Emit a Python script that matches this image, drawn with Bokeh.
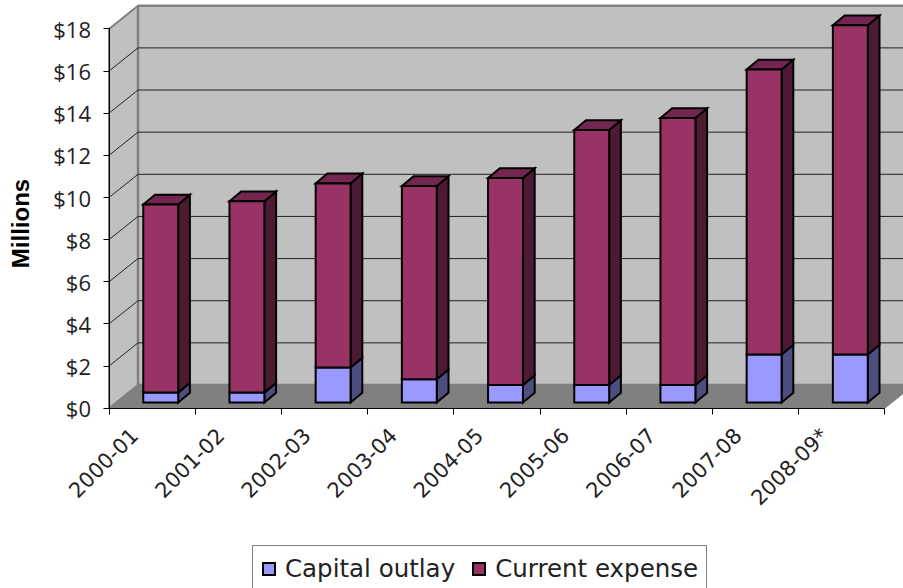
from bokeh.plotting import figure
from bokeh.models import Range1d, LinearAxis, FixedTicker, Legend, LegendItem, Label, NumeralTickFormatter
from bokeh.embed import file_html
from bokeh.resources import INLINE

categories = ["2000-01", "2001-02", "2002-03", "2003-04", "2004-05", "2005-06", "2006-07", "2007-08", "2008-09*"]
capital_outlay = [0.47, 0.47, 1.66, 1.10, 0.83, 0.83, 0.83, 2.28, 2.28]
current_expense = [8.93, 9.08, 8.74, 9.17, 9.82, 12.10, 12.67, 13.52, 15.62]
y_ticks = [0, 2, 4, 6, 8, 10, 12, 14, 16, 18]

CAP, CAP_SIDE = "#9999FF", "#4D4D80"
CUR, CUR_SIDE, CUR_TOP = "#993366", "#4D1A33", "#732650"
WALL, FLOOR, EDGE = "#C0C0C0", "#808080", "#808080"
TEXT = "#222222"

n = len(categories)
px_x, px_y = 86.2, 21.07
LEFT, BOTTOM = 108.5, 180.3               # canvas pixels left of / below the chart origin
DX, DY = 29 / px_x, 23.2 / px_y          # depth of the chart box
BW = 0.405                                # bar width
OY = 0.27                                 # bar offset from the front of the floor
BDX, BDY = 0.136, 0.465                   # depth of a bar
YMAX = y_ticks[-1]

p = figure(width=903, height=588, frame_width=903, frame_height=588,
           x_range=Range1d(-LEFT / px_x, (903 - LEFT) / px_x),
           y_range=Range1d(-BOTTOM / px_y, (588 - BOTTOM) / px_y),
           min_border=0, x_axis_location=None, y_axis_location=None,
           output_backend="svg", toolbar_location=None)
p.outline_line_color = None
p.xgrid.visible = False
p.ygrid.visible = False
p.background_fill_color = "white"
p.border_fill_color = "white"

# walls and floor
p.patch([0, DX, DX, 0], [0, DY, DY + YMAX, YMAX], fill_color=WALL, line_color=EDGE, line_width=2)
p.quad(left=[DX], right=[DX + n], bottom=[DY], top=[DY + YMAX], fill_color=WALL, line_color=EDGE, line_width=2.5)
p.patch([0, n, n + DX, DX], [0, 0, DY, DY], fill_color=FLOOR, line_color=FLOOR)

# gridlines
for t in y_ticks[1:-1]:
    p.line([0, DX, DX + n], [t, t + DY, t + DY], line_color="#222222", line_width=1)

# bars
cap_r, cur_r = None, None
for i in range(n):
    x0 = i + 0.6 - BW / 2
    x1 = x0 + BW
    y0 = OY
    y1 = y0 + capital_outlay[i]
    y2 = y1 + current_expense[i]
    common = dict(line_color="black", line_width=2, line_join="miter")
    p.patch([x1, x1 + BDX, x1 + BDX, x1], [y0, y0 + BDY, y1 + BDY, y1], fill_color=CAP_SIDE, **common)
    p.patch([x1, x1 + BDX, x1 + BDX, x1], [y1, y1 + BDY, y2 + BDY, y2], fill_color=CUR_SIDE, **common)
    p.patch([x0, x1, x1 + BDX, x0 + BDX], [y2, y2, y2 + BDY, y2 + BDY], fill_color=CUR_TOP, **common)
    r1 = p.quad(left=[x0], right=[x1], bottom=[y0], top=[y1], fill_color=CAP, **common)
    r2 = p.quad(left=[x0], right=[x1], bottom=[y1], top=[y2], fill_color=CUR, **common)
    if i == 0:
        cap_r, cur_r = r1, r2

# axes
yaxis = LinearAxis(ticker=FixedTicker(ticks=y_ticks), bounds=(0, YMAX), fixed_location=0,
                   formatter=NumeralTickFormatter(format="$0"))
yaxis.major_label_text_font = "Open Sans"
yaxis.major_label_text_font_size = "22px"
yaxis.major_label_text_color = TEXT
yaxis.major_label_standoff = 12
yaxis.major_tick_out = 6
yaxis.major_tick_in = 0
yaxis.minor_tick_out = 0
yaxis.minor_tick_in = 0
yaxis.axis_line_color = "black"
yaxis.major_tick_line_color = "black"
p.add_layout(yaxis, "left")

label_pos = [i + 0.3 for i in range(n)]
xaxis = LinearAxis(ticker=FixedTicker(ticks=label_pos, minor_ticks=list(range(n + 1))), bounds=(0, n),
                   fixed_location=0,
                   major_label_overrides={m: c for m, c in zip(label_pos, categories)})
xaxis.major_tick_out = 0
xaxis.major_tick_in = 0
xaxis.minor_tick_out = 6
xaxis.minor_tick_in = 0
xaxis.minor_tick_line_color = "black"
xaxis.axis_line_color = "black"
xaxis.major_label_orientation = 0.785398
xaxis.major_label_text_font = "DejaVu Sans"
xaxis.major_label_text_font_size = "21px"
xaxis.major_label_text_color = TEXT
xaxis.major_label_standoff = 18
p.add_layout(xaxis, "below")

p.add_layout(Label(x=20, y=365, x_units="screen", y_units="screen", text="Millions",
                   angle=1.5708, text_font="Liberation Sans", text_font_style="bold",
                   text_font_size="24px", text_color="black", text_align="center", text_baseline="middle"))

legend = Legend(items=[LegendItem(label="Capital outlay", renderers=[cap_r]),
                       LegendItem(label="Current expense", renderers=[cur_r])],
                orientation="horizontal", location=(252, -4),
                label_text_font="DejaVu Sans", label_text_font_size="24.5px", label_text_color=TEXT,
                glyph_width=15, glyph_height=15, label_standoff=9, spacing=16,
                padding=8, margin=0, border_line_color="black", border_line_width=1,
                background_fill_alpha=1.0, background_fill_color="white")
p.add_layout(legend, "center")

open("out.html", "w").write(file_html(p, INLINE))
